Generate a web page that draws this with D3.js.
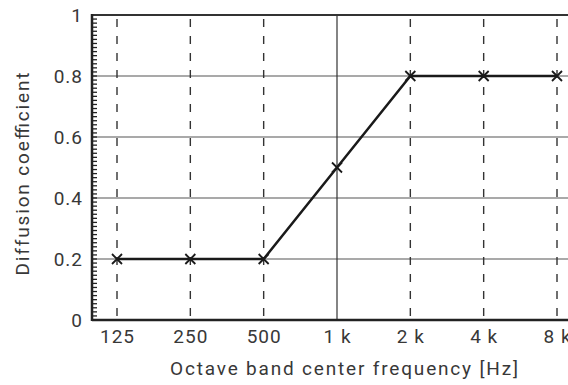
<!DOCTYPE html>
<html>
<head>
<meta charset="utf-8">
<script src="https://cdn.jsdelivr.net/npm/d3@7"></script>
<style>
  body { margin: 0; background: #fff; }
  text { font-family: Roboto, "Noto Sans", sans-serif; fill: #383838; }
</style>
</head>
<body>
<div id="chart"></div>
<script>
// octave band data
const freqs = [125, 250, 500, 1000, 2000, 4000, 8000];
const freqLabels = ["125", "250", "500", "1 k", "2 k", "4 k", "8 k"];
const diffusion = [0.2, 0.2, 0.2, 0.5, 0.8, 0.8, 0.8];
const yTicks = [0, 0.2, 0.4, 0.6, 0.8, 1];
const yTickLabels = ["0", "0.2", "0.4", "0.6", "0.8", "1"];

const width = 568, height = 385;
const plotLeft = 92, plotTop = 15, plotBottom = 320, plotRight = 568;

const svg = d3.select("#chart").append("svg")
  .attr("width", width)
  .attr("height", height);

const xScale = d3.scaleLog().base(2).domain([125, 8000]).range([117, 557]);
const yScale = d3.scaleLinear().domain([0, 1]).range([plotBottom, plotTop]);

// horizontal grid
svg.append("g").selectAll("line")
  .data(yTicks.filter(d => d > 0 && d < 1))
  .enter().append("line")
  .attr("x1", plotLeft).attr("x2", plotRight)
  .attr("y1", d => yScale(d)).attr("y2", d => yScale(d))
  .attr("stroke", "#555").attr("stroke-width", 1.2);

// vertical grid, 1k solid, others dashed
svg.append("g").selectAll("line")
  .data(freqs)
  .enter().append("line")
  .attr("x1", d => xScale(d)).attr("x2", d => xScale(d))
  .attr("y1", plotTop).attr("y2", plotBottom)
  .attr("stroke", "#333")
  .attr("stroke-width", d => d === 1000 ? 1.2 : 1.4)
  .attr("stroke-dasharray", d => d === 1000 ? null : "8,9")
  .attr("stroke-dashoffset", -4);

// minor ticks on left axis
const minor = d3.range(0, 1, 0.2 / 15);
svg.append("g").selectAll("line")
  .data(minor)
  .enter().append("line")
  .attr("x1", plotLeft).attr("x2", plotLeft + 5)
  .attr("y1", d => yScale(d)).attr("y2", d => yScale(d))
  .attr("stroke", "#222").attr("stroke-width", 1.3);

// frame
svg.append("line").attr("x1", plotLeft).attr("x2", plotRight).attr("y1", plotTop).attr("y2", plotTop)
  .attr("stroke", "#333").attr("stroke-width", 2);
svg.append("line").attr("x1", plotLeft).attr("x2", plotRight).attr("y1", plotBottom).attr("y2", plotBottom)
  .attr("stroke", "#222").attr("stroke-width", 2.5);
svg.append("line").attr("x1", plotLeft).attr("x2", plotLeft).attr("y1", plotTop - 1).attr("y2", plotBottom + 1)
  .attr("stroke", "#222").attr("stroke-width", 2.5);

// y tick labels
svg.append("g").selectAll("text")
  .data(yTicks)
  .enter().append("text")
  .attr("x", plotLeft - 9)
  .attr("y", d => yScale(d) + 6.5)
  .attr("text-anchor", "end")
  .attr("font-size", 19)
  .attr("letter-spacing", 1)
  .text((d, i) => yTickLabels[i]);

// x tick labels
svg.append("g").selectAll("text")
  .data(freqs)
  .enter().append("text")
  .attr("x", d => xScale(d) + 0.5)
  .attr("y", 343)
  .attr("text-anchor", "middle")
  .attr("font-size", 19)
  .attr("letter-spacing", 1)
  .text((d, i) => freqLabels[i]);

// axis titles
svg.append("text")
  .attr("x", 344).attr("y", 375)
  .attr("text-anchor", "middle")
  .attr("font-size", 19)
  .attr("textLength", 348)
  .attr("lengthAdjust", "spacing")
  .text("Octave band center frequency [Hz]");

svg.append("text")
  .attr("transform", "translate(29,174) rotate(-90)")
  .attr("text-anchor", "middle")
  .attr("font-size", 19)
  .attr("textLength", 203)
  .attr("lengthAdjust", "spacing")
  .text("Diffusion coefficient");

// data line
const pts = freqs.map((f, i) => [f, diffusion[i]]);
svg.append("path")
  .datum(pts)
  .attr("fill", "none")
  .attr("stroke", "#1a1a1a")
  .attr("stroke-width", 2.5)
  .attr("d", d3.line().x(d => xScale(d[0])).y(d => yScale(d[1])));

// x markers
const m = 5;
const marks = svg.append("g").selectAll("g")
  .data(pts)
  .enter().append("g")
  .attr("transform", d => `translate(${xScale(d[0])},${yScale(d[1])})`);
marks.append("path")
  .attr("d", `M${-m},${-m}L${m},${m}M${-m},${m}L${m},${-m}`)
  .attr("stroke", "#1a1a1a")
  .attr("stroke-width", 1.8);
</script>
</body>
</html>
